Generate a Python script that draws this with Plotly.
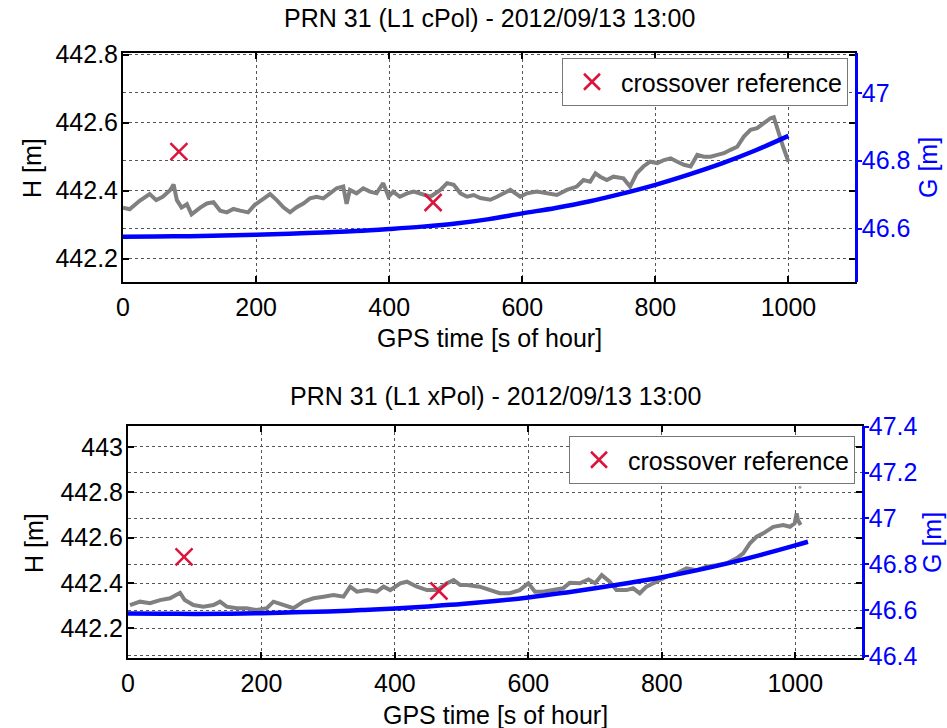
import plotly.graph_objects as go

# ---------------- data ----------------
# top panel (L1 cPol)
t_H_top = [0, 10, 25, 40, 50, 60, 71, 76, 81, 88, 96, 103, 116, 126, 136, 146, 156, 166, 176, 188,
           198, 211, 221, 231, 241, 251, 261, 271, 281, 291, 301, 311, 321, 331, 336, 341, 351, 361,
           371, 381, 391, 399, 406, 416, 427, 437, 447, 462, 477, 487, 497, 507, 517, 527, 537, 552,
           562, 572, 582, 597, 607, 622, 637, 652, 667, 682, 692, 702, 710, 717, 727, 737, 752, 762,
           772, 782, 792, 803, 813, 823, 833, 843, 853, 863, 873, 883, 893, 903, 913, 923, 933, 943,
           953, 963, 973, 978, 985, 992, 1000]
H_top = [442.350, 442.345, 442.370, 442.390, 442.372, 442.382, 442.402, 442.418, 442.372, 442.350,
         442.360, 442.330, 442.350, 442.362, 442.366, 442.341, 442.336, 442.346, 442.341, 442.336,
         442.358, 442.375, 442.390, 442.372, 442.351, 442.336, 442.351, 442.362, 442.377, 442.382,
         442.377, 442.392, 442.407, 442.412, 442.361, 442.402, 442.392, 442.407, 442.397, 442.392,
         442.422, 442.382, 442.397, 442.382, 442.392, 442.397, 442.392, 442.382, 442.402, 442.422,
         442.417, 442.392, 442.382, 442.387, 442.378, 442.373, 442.382, 442.392, 442.402, 442.382,
         442.392, 442.397, 442.392, 442.387, 442.402, 442.412, 442.431, 442.426, 442.451, 442.441,
         442.431, 442.441, 442.436, 442.412, 442.451, 442.471, 442.485, 442.481, 442.490, 442.495,
         442.485, 442.476, 442.471, 442.505, 442.500, 442.500, 442.505, 442.510, 442.520, 442.529,
         442.559, 442.579, 442.584, 442.598, 442.613, 442.616, 442.570, 442.529, 442.485]
t_G_top = [0, 50, 100, 150, 200, 250, 300, 350, 400, 450, 500, 550, 600, 650, 700, 750, 800, 850,
           900, 950, 1000]
G_top = [46.576, 46.577, 46.578, 46.580, 46.582, 46.585, 46.589, 46.593, 46.599, 46.606, 46.615,
         46.628, 46.645, 46.661, 46.680, 46.703, 46.729, 46.759, 46.792, 46.830, 46.873]

# bottom panel (L1 xPol)
t_H_bot = [3, 18, 33, 48, 63, 78, 85, 98, 113, 128, 138, 148, 163, 178, 193, 208, 218, 233, 248,
           263, 278, 293, 308, 323, 333, 343, 358, 373, 383, 393, 408, 418, 433, 448, 463, 478, 488,
           498, 508, 527, 542, 557, 572, 587, 600, 610, 622, 637, 652, 662, 677, 690, 700, 710, 722,
           732, 747, 757, 767, 777, 792, 807, 822, 837, 852, 867, 882, 897, 912, 922, 932, 942, 952,
           967, 982, 992, 999, 1002, 1004, 1008]
H_bot = [442.303, 442.318, 442.311, 442.325, 442.333, 442.357, 442.325, 442.303, 442.296, 442.303,
         442.318, 442.296, 442.289, 442.289, 442.281, 442.289, 442.318, 442.303, 442.289, 442.318,
         442.333, 442.340, 442.347, 442.340, 442.384, 442.362, 442.369, 442.362, 442.384, 442.369,
         442.399, 442.406, 442.384, 442.369, 442.369, 442.399, 442.413, 442.391, 442.391, 442.384,
         442.369, 442.355, 442.355, 442.369, 442.399, 442.362, 442.362, 442.369, 442.377, 442.401,
         442.399, 442.416, 442.399, 442.435, 442.406, 442.369, 442.369, 442.377, 442.355, 442.384,
         442.406, 442.428, 442.443, 442.465, 442.457, 442.472, 442.479, 442.487, 442.509, 442.531,
         442.575, 442.604, 442.619, 442.648, 442.656, 442.648, 442.663, 442.707, 442.678, 442.656]
t_H_bot_outlier = [1007]
H_bot_outlier = [442.822]
t_G_bot = [0, 50, 100, 150, 200, 250, 300, 350, 400, 450, 500, 550, 600, 650, 700, 750, 800, 850,
           900, 950, 1000, 1019]
G_bot = [46.585, 46.584, 46.583, 46.584, 46.586, 46.590, 46.594, 46.600, 46.607, 46.616, 46.626,
         46.639, 46.655, 46.674, 46.695, 46.718, 46.743, 46.772, 46.805, 46.842, 46.882, 46.898]

# crossover reference points
cross_t = [84, 466]
cross_H = [442.515, 442.365]

# ticks / labels
x_ticks = [0, 200, 400, 600, 800, 1000]
H_ticks_top = [442.2, 442.4, 442.6, 442.8]
G_ticks_top = [46.6, 46.8, 47.0]
G_ticktext_top = ["46.6", "46.8", "47"]
H_ticks_bot = [442.2, 442.4, 442.6, 442.8, 443.0]
H_ticktext_bot = ["442.2", "442.4", "442.6", "442.8", "443"]
G_ticks_bot = [46.4, 46.6, 46.8, 47.0, 47.2, 47.4]
G_ticktext_bot = ["46.4", "46.6", "46.8", "47", "47.2", "47.4"]

titles = ["PRN 31 (L1 cPol) - 2012/09/13 13:00", "PRN 31 (L1 xPol) - 2012/09/13 13:00"]
xlabel = "GPS time [s of hour]"
ylabel_left = "H [m]"
ylabel_right = "G [m]"
legend_label = "crossover reference"

# ---------------- styling ----------------
W, Hh = 947, 728
FONT = "Liberation Sans, Arial, Helvetica, sans-serif"
FS = 25
GRAY = "#808080"
BLUE = "#0000FF"
RED = "#DC143C"


def px(x):
    return x / W


def py(y):
    return 1 - y / Hh


fig = go.Figure()

# top panel traces
fig.add_trace(go.Scatter(x=t_H_top, y=H_top, mode="lines", line=dict(color=GRAY, width=4),
                         xaxis="x", yaxis="y", showlegend=False, hoverinfo="skip"))
fig.add_trace(go.Scatter(x=cross_t, y=cross_H, mode="markers", name=legend_label,
                         marker=dict(symbol="x-thin-open", size=17, line=dict(color=RED, width=2.5), color=RED),
                         xaxis="x", yaxis="y", legend="legend"))
fig.add_trace(go.Scatter(x=t_G_top, y=G_top, mode="lines", line=dict(color=BLUE, width=4.5, shape="spline"),
                         xaxis="x", yaxis="y2", showlegend=False, hoverinfo="skip"))

# bottom panel traces
fig.add_trace(go.Scatter(x=t_H_bot, y=H_bot, mode="lines", line=dict(color=GRAY, width=4),
                         xaxis="x2", yaxis="y3", showlegend=False, hoverinfo="skip"))
fig.add_trace(go.Scatter(x=t_H_bot_outlier, y=H_bot_outlier, mode="markers",
                         marker=dict(color="#a0a0a0", size=3),
                         xaxis="x2", yaxis="y3", showlegend=False, hoverinfo="skip"))
fig.add_trace(go.Scatter(x=cross_t, y=cross_H, mode="markers", name=legend_label,
                         marker=dict(symbol="x-thin-open", size=17, line=dict(color=RED, width=2.5), color=RED),
                         xaxis="x2", yaxis="y3", legend="legend2"))
fig.add_trace(go.Scatter(x=t_G_bot, y=G_bot, mode="lines", line=dict(color=BLUE, width=4.5, shape="spline"),
                         xaxis="x2", yaxis="y4", showlegend=False, hoverinfo="skip"))

tickfont = dict(family=FONT, size=FS, color="black")
grid = dict(showgrid=True, gridcolor="#555555", gridwidth=1, griddash="dot")

xcommon = dict(range=[0, 1100], tickvals=x_ticks, ticks="inside", ticklen=6, tickwidth=1.5,
               tickcolor="black", showline=True, linecolor="black", linewidth=2, mirror="ticks",
               tickfont=tickfont, zeroline=False, ticklabelstandoff=2, automargin=False, **grid)
ycommon = dict(ticks="inside", ticklen=6, tickwidth=1.5, tickcolor="black", showline=True,
               linecolor="black", linewidth=2, mirror="ticks", tickfont=tickfont, zeroline=False,
               ticklabelstandoff=-2, automargin=False, **grid)
y2common = dict(side="right", ticks="outside", ticklen=4, tickwidth=1.5, tickcolor=BLUE, showline=True,
                linecolor=BLUE, linewidth=2.5, tickfont=dict(family=FONT, size=FS, color=BLUE),
                zeroline=False, ticklabelstandoff=-5, automargin=False, **grid)

legend_style = dict(xanchor="right", yanchor="top", bgcolor="white", bordercolor="#777777",
                    borderwidth=1, itemwidth=48, font=dict(family=FONT, size=FS))

fig.update_layout(
    width=W, height=Hh, autosize=False,
    margin=dict(l=0, r=0, t=0, b=0, pad=0, autoexpand=False),
    paper_bgcolor="white", plot_bgcolor="white",
    font=dict(family=FONT, size=FS, color="black"),
    xaxis=dict(domain=[px(123), px(855)], anchor="y", **xcommon),
    yaxis=dict(domain=[py(282), py(53)], anchor="x", range=[442.131, 442.805],
               tickvals=H_ticks_top, **ycommon),
    yaxis2=dict(overlaying="y", anchor="x", range=[46.443, 47.117], tickvals=G_ticks_top,
                ticktext=G_ticktext_top, **y2common),
    xaxis2=dict(domain=[px(128), px(862)], anchor="y3", **xcommon),
    yaxis3=dict(domain=[py(657.5), py(426)], anchor="x2", range=[442.072, 443.092],
                tickvals=H_ticks_bot, ticktext=H_ticktext_bot, **ycommon),
    yaxis4=dict(overlaying="y3", anchor="x2", range=[46.393, 47.403], tickvals=G_ticks_bot,
                ticktext=G_ticktext_bot, **y2common),
    legend=dict(x=px(848), y=py(58), **legend_style),
    legend2=dict(x=px(855), y=py(436), **legend_style),
)

ann = []
# panel titles
ann.append(dict(text=titles[0], x=px(489), y=py(18)))
ann.append(dict(text=titles[1], x=px(495), y=py(396)))
# x labels
ann.append(dict(text=xlabel, x=px(489), y=py(338)))
ann.append(dict(text=xlabel, x=px(495), y=py(715)))
# y labels
ann.append(dict(text=ylabel_left, x=px(32), y=py(168), textangle=-90))
ann.append(dict(text=ylabel_left, x=px(34), y=py(543), textangle=-90))
ann.append(dict(text=ylabel_right, x=px(928), y=py(168), textangle=-90, font=dict(color=BLUE)))
ann.append(dict(text=ylabel_right, x=px(932), y=py(543), textangle=-90, font=dict(color=BLUE)))
for a in ann:
    f = dict(family=FONT, size=FS, color="black")
    f.update(a.pop("font", {}))
    fig.add_annotation(xref="paper", yref="paper", xanchor="center", yanchor="middle",
                       showarrow=False, font=f, **a)

fig.write_html("out.html", config={"displayModeBar": False},
               post_script="document.body.style.margin='0px';")
